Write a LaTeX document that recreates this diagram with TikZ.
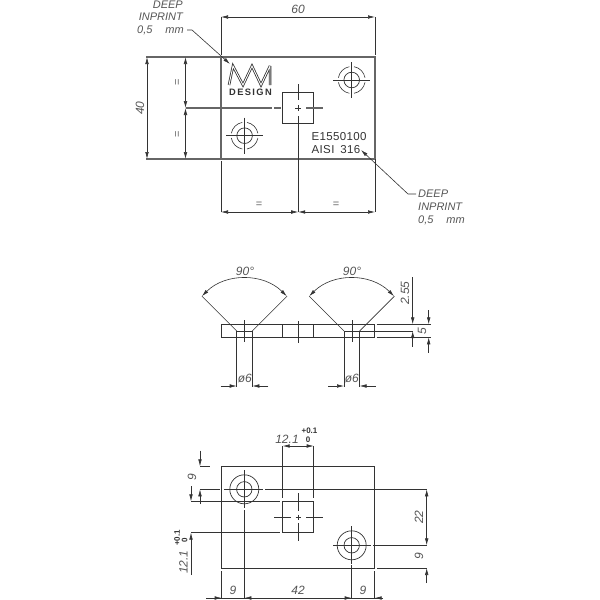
\documentclass[tikz,border=0pt]{standalone}
\usepackage{fontspec}
\usetikzlibrary{arrows.meta}
\setmainfont{Liberation Sans}
\newfontfamily\cadfont[LetterSpace=3]{Liberation Sans}
\newfontfamily\wideboldfont[LetterSpace=15]{Liberation Sans Bold}
\definecolor{ink}{HTML}{333333}
\definecolor{edge}{HTML}{666666}
\definecolor{soft}{HTML}{555555}
\tikzset{
  part/.style={draw=ink,line width=0.7pt},
  heavy/.style={draw=edge,line width=1.1pt},
  thin/.style={draw=ink,line width=0.6pt},
  tipped/.style={draw=ink,line width=0.6pt,-{Latex[length=7pt,width=3.6pt]}},
  bothtip/.style={draw=ink,line width=0.6pt,{Latex[length=7pt,width=3.6pt]}-{Latex[length=7pt,width=3.6pt]}},
  lab/.style={font=\itshape\fontsize{12}{14}\selectfont,text=soft,inner sep=0pt},
  small/.style={font=\bfseries\fontsize{8}{9}\selectfont,text=ink,inner sep=0pt},
  eq/.style={font=\fontsize{11}{12}\selectfont,text=edge,inner sep=0pt},
  stamp/.style={font=\cadfont\fontsize{11.5}{14}\selectfont,text=ink,inner sep=0pt,anchor=west},
  notel/.style={font=\itshape\fontsize{11}{13}\selectfont,text=soft,inner sep=0pt,anchor=west},
  noter/.style={font=\itshape\fontsize{11}{13}\selectfont,text=soft,inner sep=0pt,anchor=east},
}
\begin{document}
\begin{tikzpicture}[x=1pt,y=-1pt]
\useasboundingbox (0,0) rectangle (600,600);
% ---------- TOP VIEW ----------
\draw[heavy] (146,57) -- (375,57) -- (375,159) -- (146,159);
\draw[heavy] (221,57) -- (221,159);
\draw[part] (282.3,92.3) rectangle (313.7,123.3);
% extension lines
\draw[thin] (221,17) -- (221,55);
\draw[thin] (375,17) -- (375,55);
\draw[thin] (221,161) -- (221,212);
\draw[thin] (375,159) -- (375,212);
\draw[thin] (298.2,84) -- (298.2,100);
\draw[thin] (298.2,105) -- (298.2,111);
\draw[thin] (298.2,116) -- (298.2,212);
\draw[heavy] (186,108) -- (272,108);
\draw[heavy] (274,108) -- (281,108);
\draw[thin] (295,108) -- (301,108);
\draw[heavy] (306,108) -- (322.7,108);
% dimensions
\draw[bothtip] (221,17) -- (375,17);
\node[lab] (t60) at (298,9.5) {60};
\draw[bothtip] (147,57) -- (147,159);
\node[lab,rotate=90] (t40) at (140,108) {40};
\draw[bothtip] (185.5,57) -- (185.5,108);
\draw[bothtip] (185.5,108) -- (185.5,159);
\node[eq,rotate=90] (eqa) at (178,82) {=};
\node[eq,rotate=90] (eqb) at (178,134) {=};
\draw[bothtip] (221,212) -- (298.2,212);
\draw[bothtip] (298.2,212) -- (375,212);
\node[eq] (eqc) at (259,204.5) {=};
\node[eq] (eqd) at (336,204.5) {=};
% holes
\foreach \cx/\cy in {244.6/135.7,351.7/80}{
  \draw[part] (\cx,\cy) circle[radius=7.8];
  \draw[thin] (\cx-18.5,\cy) -- (\cx+18.5,\cy);
  \draw[thin] (\cx,\cy-18) -- (\cx,\cy+18);
  \foreach \a in {10,100,190,280}
    \draw[thin] ({\cx+13.5*cos(\a)},{\cy+13.5*sin(\a)}) arc[start angle=\a,delta angle=70,radius=13.5];
}
% logo
\draw[draw=ink,line width=2.5pt,line join=miter,miter limit=3] (229,85) -- (233,66) -- (243,85) -- (252,66) -- (261,85) -- (270,66) -- (270,85);
\draw[draw=white,line width=0.9pt,line join=miter,miter limit=3] (229,85) -- (233,66) -- (243,85) -- (252,66) -- (261,85) -- (270,66) -- (270,85);
\node[font=\wideboldfont\fontsize{9.3}{10}\selectfont,text=ink,inner sep=0pt] (design) at (250.5,92) {DESIGN};
\node[stamp] (code) at (311.5,136.7) {E1550100};
\node[stamp] (aisi) at (311.5,149.3) {AISI\hspace{6pt}316};
% leaders
\node[noter] (na1) at (183,5) {DEEP};
\node[noter] (na2) at (183,17) {INPRINT};
\node[noter] (na3) at (184,30) {0,5\hspace{13pt}mm};
\coordinate (ka) at (192,30);
\coordinate (ta) at (230,64);
\draw[tipped] (na3.east)++(3,0) -- (ka) -- (ta);
\node[notel] (nb1) at (418,194) {DEEP};
\node[notel] (nb2) at (418,207) {INPRINT};
\node[notel] (nb3) at (418,220) {0,5\hspace{13pt}mm};
\coordinate (kb) at (408,194);
\coordinate (tb) at (361,150);
\draw[tipped] (nb1.west)++(-2,0) -- (kb) -- (tb);
% ---------- FRONT VIEW ----------
\draw[part] (221.7,324.3) rectangle (374.3,337.3);
\draw[part] (282.5,324.3) -- (282.5,337.3);
\draw[part] (313.7,324.3) -- (313.7,337.3);
\draw[thin] (298.2,321) -- (298.2,343);
\foreach \cx in {244.5,351.8}{
  \draw[thin] (\cx,320) -- (\cx,342);
  \draw[part] (\cx-7.8,331) -- (\cx+7.8,331);
  \draw[thin] (\cx-7.8,331) -- (\cx-7.8,387);
  \draw[thin] (\cx+7.8,331) -- (\cx+7.8,387);
  \draw[thin] (\cx-7.8,331) -- (\cx-42.6,296.2);
  \draw[thin] (\cx+7.8,331) -- (\cx+42.6,296.2);
  \draw[thin,{Latex[length=7pt,width=3.6pt]}-{Latex[length=7pt,width=3.6pt]}] (\cx-42.6,296.2) arc[start angle=-135,end angle=-45,radius=60];
  \draw[tipped] (\cx-23.8,386) -- (\cx-7.8,386);
  \draw[tipped] (\cx+23.8,386) -- (\cx+7.8,386);
}
\node[lab] (a90a) at (245,271.5) {90°};
\node[lab] (a90b) at (352,271.5) {90°};
\node[lab] (d6a) at (244.8,378) {ø6};
\node[lab] (d6b) at (351.8,378) {ø6};
\draw[thin] (376.5,324.3) -- (431,324.3);
\draw[thin] (359.6,331) -- (413,331);
\draw[thin] (376.5,337.3) -- (431,337.3);
\draw[tipped] (412.7,277) -- (412.7,324.3);
\draw[tipped] (412.7,346.7) -- (412.7,331);
\draw[tipped] (428.7,310) -- (428.7,324.3);
\draw[tipped] (428.7,352.7) -- (428.7,337.3);
\node[lab,rotate=90] (t255) at (405,293) {2.55};
\node[lab,rotate=90] (t5) at (422,331) {5};
% ---------- BOTTOM VIEW ----------
\draw[part] (221.7,466.3) rectangle (374.7,568);
\draw[part] (282.7,501.3) rectangle (313.7,532.7);
\foreach \cx/\cy in {244.3/489.3,351.7/545.3}{
  \draw[part] (\cx,\cy) circle[radius=14.5];
  \draw[part] (\cx,\cy) circle[radius=7.7];
  \draw[thin] (\cx,\cy-19) -- (\cx,\cy+19);
}
\draw[thin] (224,489.3) -- (263,489.3);
\draw[thin] (333,545.3) -- (371,545.3);
\draw[thin] (298.2,493) -- (298.2,511);
\draw[thin] (298.2,514.5) -- (298.2,519.5);
\draw[thin] (298.2,523) -- (298.2,541);
\draw[thin] (274,517) -- (291,517);
\draw[thin] (295.5,517) -- (301,517);
\draw[thin] (306,517) -- (322.5,517);
% extension lines
\draw[thin] (200,466.3) -- (210,466.3);
\draw[thin] (200,489.3) -- (220,489.3);
\draw[thin] (265,489.3) -- (427,489.3);
\draw[thin] (191,501.3) -- (280,501.3);
\draw[thin] (191,532.7) -- (280,532.7);
\draw[thin] (282.7,446) -- (282.7,498);
\draw[thin] (313.7,446) -- (313.7,498);
\draw[thin] (373,545.3) -- (427,545.3);
\draw[thin] (377,568) -- (427,568);
\draw[thin] (221.7,571) -- (221.7,598);
\draw[thin] (374.7,571) -- (374.7,598);
\draw[thin] (244.3,510) -- (244.3,598);
\draw[thin] (351.7,565) -- (351.7,598);
% dimensions
\draw[tipped] (200,450.7) -- (200,466.3);
\draw[tipped] (200,504) -- (200,489.3);
\node[lab,rotate=90] (t9a) at (192,477.5) {9};
\draw[tipped] (191,486) -- (191,501.3);
\draw[tipped] (191,575) -- (191,532.7);
\node[lab,rotate=90] (t121a) at (183.5,562) {12.1};
\node[small,rotate=90] (t01a) at (177,538) {+0.1};
\node[small,rotate=90] (t00a) at (184.5,540) {0};
\draw[bothtip] (282.7,446) -- (313.7,446);
\node[lab] (t121b) at (287,439) {12.1};
\node[small] (t01b) at (309.5,431) {+0.1};
\node[small] (t00b) at (308,440) {0};
\draw[bothtip] (426.7,489.3) -- (426.7,545.3);
\draw[tipped] (426.7,583) -- (426.7,568);
\node[lab,rotate=90] (t22) at (419,517) {22};
\node[lab,rotate=90] (t9b) at (419,556) {9};
\draw[thin] (206,598) -- (383,598);
\draw[tipped] (206,598) -- (221.7,598);
\draw[tipped] (259,598) -- (244.3,598);
\draw[tipped] (337,598) -- (351.7,598);
\draw[tipped] (383,598) -- (374.7,598);
\node[lab] (t9c) at (233,590.5) {9};
\node[lab] (t42) at (298,590.5) {42};
\node[lab] (t9d) at (363,590.5) {9};
\end{tikzpicture}
\end{document}
